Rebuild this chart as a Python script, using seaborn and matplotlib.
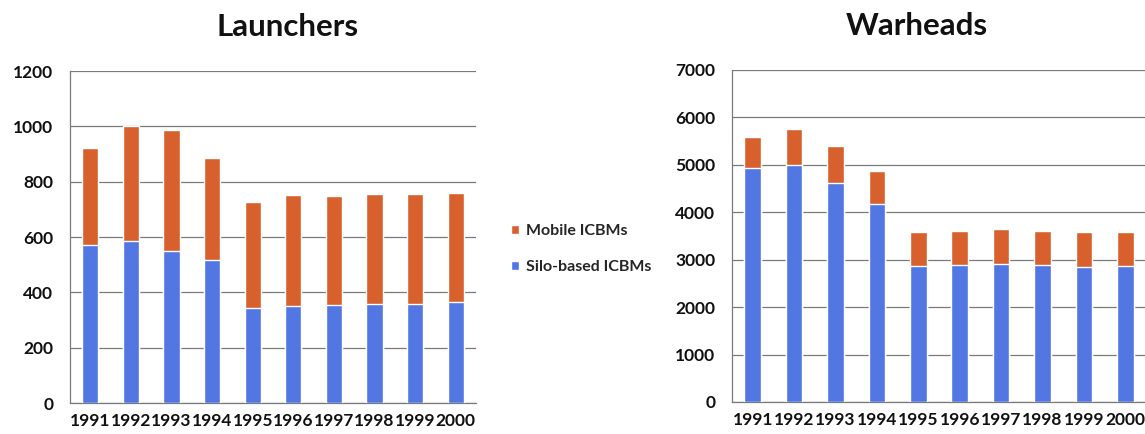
import numpy as np
import pandas as pd
import seaborn as sns
import matplotlib.pyplot as plt
from matplotlib.ticker import FixedLocator

years = ["1991", "1992", "1993", "1994", "1995", "1996", "1997", "1998", "1999", "2000"]

# Launchers
launch_silo = [572, 587, 548, 517, 345, 350, 353, 359, 359, 365]
launch_mobile = [348, 413, 440, 367, 380, 403, 397, 395, 395, 394]

# Warheads
war_silo = [4930, 5000, 4628, 4178, 2872, 2879, 2914, 2879, 2844, 2858]
war_mobile = [653, 751, 772, 682, 716, 731, 731, 731, 730, 723]

ORANGE = "#D8602C"
BLUE = "#5277E2"
GRID = "#7a7a7a"

sns.set_theme(style="white")
plt.rcParams["font.family"] = ["Lato", "DejaVu Sans"]


def stacked_panel(ax, silo, mobile, title, ymax, step, title_x):
    df = pd.DataFrame({"year": years, "silo": silo, "mobile": mobile})
    df["total"] = df["silo"] + df["mobile"]
    sns.barplot(data=df, x="year", y="total", color=ORANGE, width=0.4,
                saturation=1, ax=ax, label="Mobile ICBMs", zorder=3)
    sns.barplot(data=df, x="year", y="silo", color=BLUE, width=0.4,
                saturation=1, ax=ax, label="Silo-based ICBMs", zorder=3)
    ax.set_ylim(0, ymax)
    ax.set_xlim(-0.5, len(years) - 0.5)
    ax.set_yticks(np.arange(0, ymax + 1, step))
    ax.yaxis.grid(True, color=GRID, linewidth=0.9, zorder=0)
    ax.set_axisbelow(True)
    for s in ["top", "right"]:
        ax.spines[s].set_visible(False)
    for s in ["left", "bottom"]:
        ax.spines[s].set_color(GRID)
        ax.spines[s].set_linewidth(0.9)
    ax.tick_params(axis="x", which="major", length=0, pad=7)
    ax.tick_params(axis="y", length=0, pad=12)
    ax.xaxis.set_minor_locator(FixedLocator(np.arange(-0.5, len(years), 1.0)))
    ax.tick_params(axis="x", which="minor", length=5, color=GRID, width=0.9)
    for lab in ax.get_xticklabels() + ax.get_yticklabels():
        lab.set_fontweight("bold")
        lab.set_fontsize(12.5)
        lab.set_color("#111111")
    ax.set_xlabel("")
    ax.set_ylabel("")
    ax.set_title(title, fontsize=22.5, fontweight="bold", pad=25, color="#111111",
                 x=title_x)
    if ax.get_legend() is not None:
        ax.get_legend().remove()


fig = plt.figure(figsize=(11.45, 4.34), dpi=100)
ax1 = fig.add_axes([70 / 1145, 31 / 434, 406 / 1145, 332 / 434])
ax2 = fig.add_axes([732 / 1145, 32 / 434, 414 / 1145, 332 / 434])

stacked_panel(ax1, launch_silo, launch_mobile, "Launchers", 1200, 200, 0.537)
stacked_panel(ax2, war_silo, war_mobile, "Warheads", 7000, 1000, 0.447)

handles, labels = ax1.get_legend_handles_labels()
fig.legend(handles, labels, loc="center left", bbox_to_anchor=(497 / 1145, 1 - 249 / 434),
           frameon=False, handlelength=0.5, handleheight=0.5,
           handletextpad=0.4, labelspacing=1.4,
           prop={"weight": "bold", "size": 11.5})

fig.savefig("out.png", dpi=100)
plt.close(fig)
